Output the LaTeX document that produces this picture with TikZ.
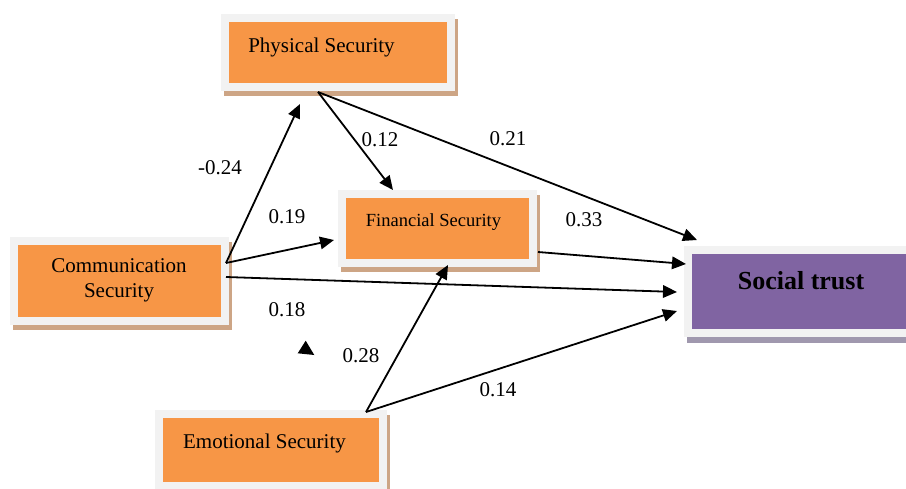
\documentclass[tikz,border=0pt]{standalone}
\usepackage{fontspec}
\setmainfont{Liberation Serif}
\usetikzlibrary{arrows.meta,shadows}
\definecolor{secorange}{RGB}{247,150,70}
\definecolor{secframe}{RGB}{242,242,242}
\definecolor{secshadow}{RGB}{205,165,133}
\definecolor{trustpurple}{RGB}{128,100,162}
\definecolor{trustshadow}{RGB}{160,152,174}
\tikzset{
  secbox/.style={fill=secframe,outer sep=0pt,inner sep=0pt,
    drop shadow={shadow xshift=3pt,shadow yshift=-5pt,fill=secshadow,opacity=1},
    path picture={\fill[secorange] ([shift={(8pt,8pt)}]path picture bounding box.south west)
      rectangle ([shift={(-8pt,-8pt)}]path picture bounding box.north east);}},
  trustbox/.style={fill=secframe,outer sep=0pt,inner sep=0pt,
    drop shadow={shadow xshift=3pt,shadow yshift=-6pt,fill=trustshadow,opacity=1},
    path picture={\fill[trustpurple] ([shift={(8pt,8pt)}]path picture bounding box.south west)
      rectangle ([shift={(-8pt,-8pt)}]path picture bounding box.north east);}},
  coef/.style={font=\fontsize{21}{25}\selectfont,inner sep=0pt}
}
\begin{document}
\begin{tikzpicture}[>={Triangle[length=14pt,width=12.5pt]},x=1pt,y=-1pt,line width=1.8pt]
	\useasboundingbox (0,0) rectangle (906,488);
	\clip (0,0) rectangle (906,488);
	% boxes
	\node[secbox,minimum width=234pt,minimum height=77pt] (phys) at (338,52.5) {};
	\node[secbox,minimum width=199pt,minimum height=77pt] (fin) at (437.5,228.5) {};
	\node[secbox,minimum width=219pt,minimum height=88pt] (comm) at (119.5,281) {};
	\node[secbox,minimum width=232pt,minimum height=80pt] (emo) at (271,450) {};
	\node[trustbox,minimum width=246pt,minimum height=91pt] (soc) at (807,291.5) {};
	% box texts
	\node[coef,anchor=base] (physT) at (321.5,52) {Physical Security};
	\node[coef,anchor=base,font=\fontsize{18.5}{22}\selectfont] (finT) at (433.5,226) {Financial Security};
	\node[coef,align=center] (commT) at (119,280) {Communication\\Security};
	\node[coef,anchor=base] (emoT) at (264.5,448) {Emotional Security};
	\node[coef,anchor=base,font=\fontsize{26}{30}\selectfont\bfseries] (socT) at (801,289) {Social trust};
	% ports
	\coordinate (commA) at ([shift={(-3pt,18pt)}]comm.east);
	\coordinate (commB) at ([shift={(-3pt,4pt)}]comm.east);
	\coordinate (physA) at ([shift={(-20pt,-1pt)}]phys.south);
	\coordinate (finA) at ([shift={(1pt,-23.5pt)}]fin.east);
	\coordinate (emoA) at ([shift={(95pt,-2pt)}]emo.north);
	% paths
	\draw[->] (commA) -- ([shift={(-38pt,-13pt)}]phys.south);
	\draw[->] (commA) -- ([shift={(-4pt,-11.5pt)}]fin.west);
	\draw[->] (commB) -- ([shift={(-7pt,-0.5pt)}]soc.west);
	\draw[->] (physA) -- ([shift={(-44.5pt,0pt)}]fin.north);
	\draw[->] (physA) -- ([shift={(13pt,6pt)}]soc.north west);
	\draw[->] (finA) -- ([shift={(2pt,27.5pt)}]soc.west);
	\draw[->] (emoA) -- ([shift={(10.5pt,2pt)}]fin.south);
	\draw[->] (emoA) -- ([shift={(-7pt,-19.5pt)}]soc.west);
	\fill (305.7,340.7) -- (297.7,353.3) -- (314.3,355) -- cycle;
	% coefficients
	\node[coef] (l1) at (220,168) {-0.24};
	\node[coef] (l2) at (380,140) {0.12};
	\node[coef] (l3) at (508,139) {0.21};
	\node[coef] (l4) at (287,217) {0.19};
	\node[coef] (l5) at (584,220) {0.33};
	\node[coef] (l6) at (287,310) {0.18};
	\node[coef] (l7) at (361,356) {0.28};
	\node[coef] (l8) at (498,390) {0.14};
\end{tikzpicture}
\end{document}
